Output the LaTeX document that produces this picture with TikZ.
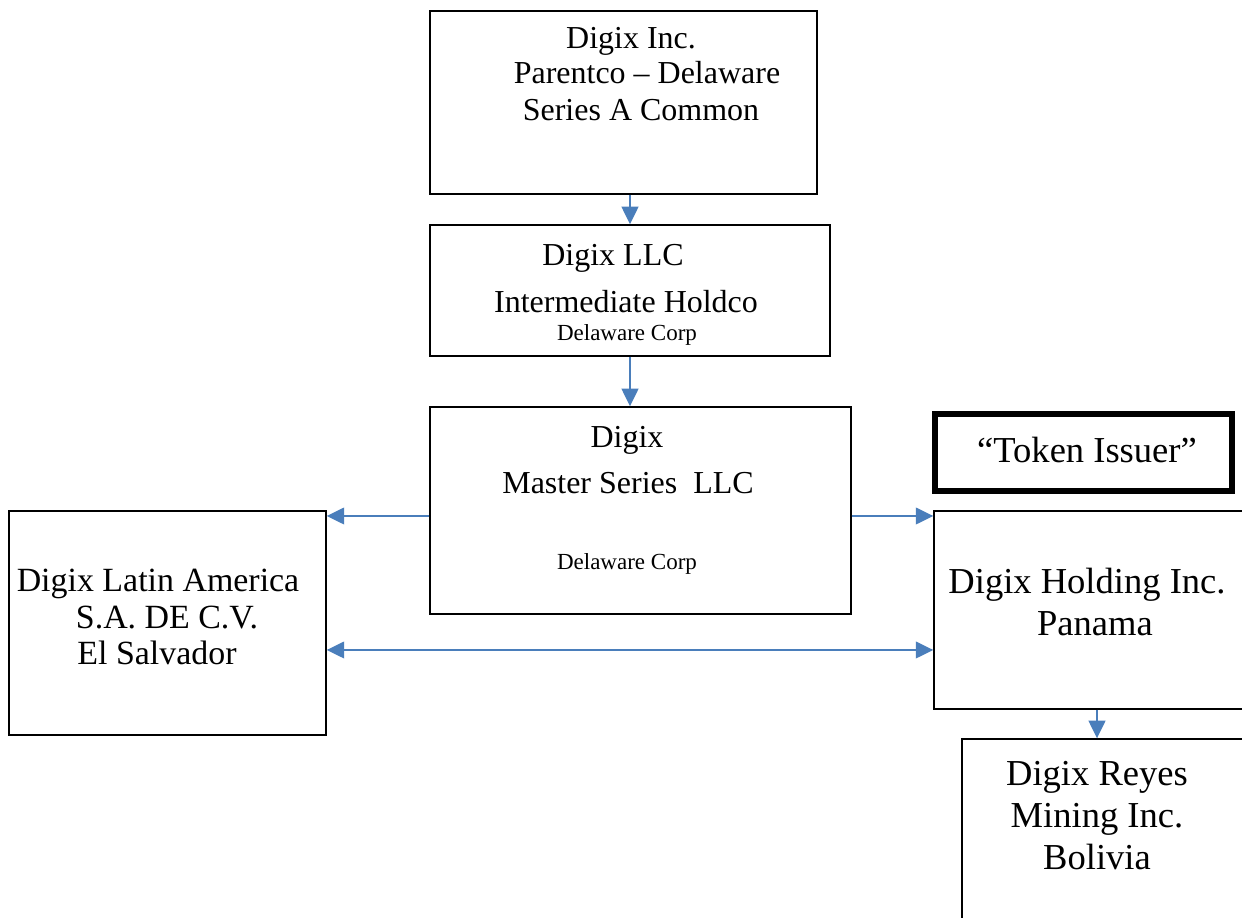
\documentclass[tikz,border=0pt]{standalone}
\usepackage{fontspec}
\setmainfont{Liberation Serif}
\usetikzlibrary{arrows.meta}

\tikzset{
  box/.style={draw, line width=0.8pt, inner sep=0pt},
  issuer/.style={draw, line width=3.4pt, inner sep=0pt},
  flow/.style={draw=flowblue, line width=1.1pt, -{Triangle[length=10pt,width=9.5pt]}},
  twoway/.style={flow, {Triangle[length=10pt,width=9.5pt]}-{Triangle[length=10pt,width=9.5pt]}},
  txt/.style={anchor=base, inner sep=0pt, font=\fontsize{18.2}{22}\selectfont},
  subtxt/.style={anchor=base, inner sep=0pt, font=\fontsize{13.1}{16}\selectfont},
  latintxt/.style={anchor=base, inner sep=0pt, font=\fontsize{19.3}{23}\selectfont},
  righttxt/.style={anchor=base, inner sep=0pt, font=\fontsize{20.8}{25}\selectfont},
}
\definecolor{flowblue}{RGB}{74,126,187}

\begin{document}
\begin{tikzpicture}[x=0.02cm, y=-0.02cm]
\useasboundingbox (0,0) rectangle (1242,918);
\clip (0,0) rectangle (1242,918);

% boxes
\node [box, minimum width=7.74cm, minimum height=3.66cm] (parent) at (623.5,102.5) {};
\node [box, minimum width=8.0cm, minimum height=2.62cm] (llc) at (630,290.5) {};
\node [box, minimum width=8.42cm, minimum height=4.14cm] (master) at (640.5,510.5) {};
\node [box, minimum width=6.34cm, minimum height=4.48cm] (latin) at (167.5,623) {};
\node [box, minimum width=6.52cm, minimum height=3.96cm] (holding) at (1097,610) {};
\node [issuer, minimum width=5.94cm, minimum height=1.54cm] (token) at (1083.5,452.5) {};
\node [box, minimum width=5.96cm, minimum height=4.02cm] (reyes) at (1111,839.5) {};

% texts
\node [txt] (parent1) at (631,49) {Digix Inc.};
\node [txt] (parent2) at (647,84) {Parentco -- Delaware};
\node [txt] (parent3) at (641,121) {Series A Common};

\node [txt] (llc1) at (613,266) {Digix LLC};
\node [txt] (llc2) at (626,313) {Intermediate Holdco};
\node [subtxt] (llc3) at (627,341) {Delaware Corp};

\node [txt] (master1) at (627,448) {Digix};
\node [txt] (master2) at (628,494) {Master Series\ \ LLC};
\node [subtxt] (master3) at (627,570) {Delaware Corp};

\node [latintxt] (latin1) at (158,592) {Digix Latin America};
\node [latintxt] (latin2) at (167,629) {S.A. DE C.V.};
\node [latintxt] (latin3) at (157,665) {El Salvador};

\node [righttxt] (token1) at (1087,463) {``Token Issuer''};

\node [righttxt] (holding1) at (1087,594) {Digix Holding Inc.};
\node [righttxt] (holding2) at (1095,636) {Panama};

\node [righttxt] (reyes1) at (1097,786) {Digix Reyes};
\node [righttxt] (reyes2) at (1097,828) {Mining Inc.};
\node [righttxt] (reyes3) at (1097,870) {Bolivia};

% connectors
\draw [flow] (parent.south -| llc.north) -- (llc.north);
\draw [flow] (llc.south) -- (llc.south |- master.north);
\draw [flow] ([yshift=-0.11cm]master.west) coordinate (mw) -- (mw -| latin.east);
\draw [flow] ([yshift=-0.11cm]master.east) coordinate (me) -- (me -| holding.west);
\draw [twoway] ([yshift=-0.54cm]latin.east) coordinate (le) -- (le -| holding.west);
\draw [flow] (holding.south -| reyes2) -- (reyes.north -| reyes2);
\end{tikzpicture}
\end{document}
